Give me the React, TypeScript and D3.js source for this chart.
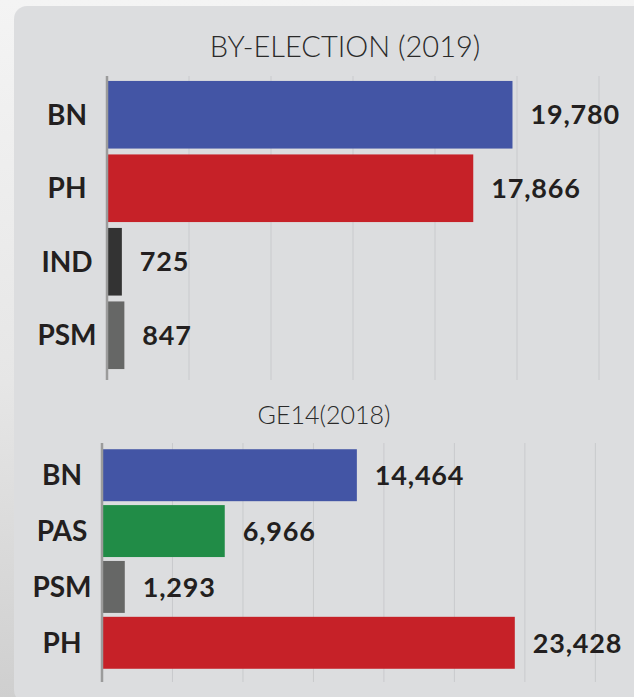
import React from "react";
import * as d3 from "d3";

// by-election 2019
const byParties = ["BN", "PH", "IND", "PSM"];
const byVotes = [19780, 17866, 725, 847];
const byColors = ["#4355a5", "#c62128", "#333333", "#666766"];

// GE14 2018
const geParties = ["BN", "PAS", "PSM", "PH"];
const geVotes = [14464, 6966, 1293, 23428];
const geColors = ["#4355a5", "#218c47", "#666766", "#c62128"];

const gridStep = 4000;

const W = 634;
const H = 697;
const fmt = d3.format(",");
const textColor = "#231f20";
const labelFont = "Lato, 'Open Sans', sans-serif";

type PanelProps = {
  title: string;
  titleX: number;
  titleY: number;
  titleSize: number;
  parties: string[];
  votes: number[];
  colors: string[];
  x: d3.ScaleLinear<number, number>;
  y: d3.ScaleBand<string>;
  gridTop: number;
  gridBottom: number;
  labelX: number;
};

const Panel = (p: PanelProps) => {
  const maxV = p.x.domain()[1];
  const ticks = d3.range(gridStep, maxV + 1, gridStep);
  const x0 = p.x(0);
  return (
    <g>
      <text
        x={p.titleX}
        y={p.titleY}
        textAnchor="middle"
        fontFamily={labelFont}
        fontWeight={300}
        fontSize={p.titleSize}
        fill="#2a2a2a"
      >
        {p.title}
      </text>
      {ticks.map((t) => (
        <line
          key={t}
          x1={p.x(t)}
          x2={p.x(t)}
          y1={p.gridTop}
          y2={p.gridBottom}
          stroke="#c9cacd"
          strokeWidth={1}
        />
      ))}
      {p.parties.map((d, i) => (
        <rect
          key={d}
          x={x0}
          y={p.y(d)}
          width={p.x(p.votes[i]) - x0}
          height={p.y.bandwidth()}
          fill={p.colors[i]}
        />
      ))}
      <line
        x1={x0}
        x2={x0}
        y1={p.gridTop}
        y2={p.gridBottom}
        stroke="#9b9b9b"
        strokeWidth={2.5}
      />
      {p.parties.map((d) => (
        <text
          key={"c" + d}
          x={p.labelX}
          y={(p.y(d) as number) + p.y.bandwidth() / 2}
          dy="0.36em"
          textAnchor="middle"
          fontFamily={labelFont}
          fontWeight={700}
          fontSize={28}
          fill={textColor}
        >
          {d}
        </text>
      ))}
      {p.parties.map((d, i) => (
        <text
          key={"v" + d}
          x={p.x(p.votes[i]) + 18}
          y={(p.y(d) as number) + p.y.bandwidth() / 2}
          dy="0.36em"
          fontFamily={labelFont}
          fontWeight={700}
          fontSize={27}
          letterSpacing={0.8}
          fill={textColor}
        >
          {fmt(p.votes[i])}
        </text>
      ))}
    </g>
  );
};

const App = () => {
  const xTop = d3.scaleLinear().domain([0, 24000]).range([107, 107 + 24000 * 0.0205]);
  const yTop = d3
    .scaleBand<string>()
    .domain(byParties)
    .range([78, 372])
    .paddingInner(0.08)
    .paddingOuter(0.04);

  const xBot = d3.scaleLinear().domain([0, 28000]).range([102, 102 + 28000 * 0.01762]);
  const yBot = d3
    .scaleBand<string>()
    .domain(geParties)
    .range([447, 671])
    .paddingInner(0.07)
    .paddingOuter(0.04);

  return (
    <svg
      width={W}
      height={H}
      style={{ position: "absolute", left: 0, top: 0, display: "block" }}
    >
      <defs>
        <linearGradient id="bg" x1="0" y1="0" x2="0" y2="1">
          <stop offset="0%" stopColor="#f4f4f4" />
          <stop offset="55%" stopColor="#e6e6e6" />
          <stop offset="100%" stopColor="#cfcfcf" />
        </linearGradient>
      </defs>
      <rect x={0} y={0} width={W} height={H} fill="url(#bg)" />
      <rect x={14} y={6} width={W} height={H} rx={13} fill="#dcdddf" />
      <Panel
        title="BY-ELECTION (2019)"
        titleX={345}
        titleY={57}
        titleSize={29}
        parties={byParties}
        votes={byVotes}
        colors={byColors}
        x={xTop}
        y={yTop}
        gridTop={76}
        gridBottom={380}
        labelX={67}
      />
      <Panel
        title="GE14(2018)"
        titleX={324}
        titleY={424}
        titleSize={25}
        parties={geParties}
        votes={geVotes}
        colors={geColors}
        x={xBot}
        y={yBot}
        gridTop={443}
        gridBottom={682}
        labelX={62}
      />
    </svg>
  );
};

export default App;
